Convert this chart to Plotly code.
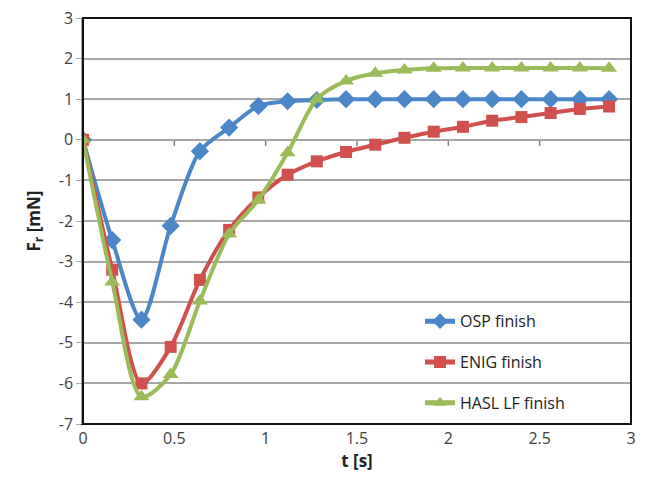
import plotly.graph_objects as go

t = [0, 0.16, 0.32, 0.48, 0.64, 0.80, 0.96, 1.12, 1.28, 1.44, 1.60, 1.76, 1.92, 2.08, 2.24, 2.40, 2.56, 2.72, 2.88]
osp = [0, -2.47, -4.43, -2.12, -0.28, 0.30, 0.83, 0.95, 0.98, 1.0, 1.0, 1.0, 1.0, 1.0, 1.0, 1.0, 1.0, 1.0, 1.0]
enig = [0, -3.2, -6.0, -5.1, -3.45, -2.22, -1.42, -0.86, -0.53, -0.30, -0.12, 0.05, 0.20, 0.32, 0.47, 0.56, 0.66, 0.76, 0.82]
hasl = [0, -3.5, -6.33, -5.78, -3.97, -2.32, -1.48, -0.32, 1.0, 1.45, 1.64, 1.72, 1.76, 1.77, 1.77, 1.77, 1.77, 1.77, 1.76]

x_ticks = [0, 0.5, 1, 1.5, 2, 2.5, 3]
y_ticks = [-7, -6, -5, -4, -3, -2, -1, 0, 1, 2, 3]

font = "Open Sans, Liberation Sans, sans-serif"

fig = go.Figure()
series = [
    ("OSP finish", osp, "#4A86C8", "diamond", 14),
    ("ENIG finish", enig, "#D0504D", "square", 12),
    ("HASL LF finish", hasl, "#9BBB59", "triangle-up", 14),
]
for name, vals, col, sym, sz in series:
    fig.add_trace(go.Scatter(
        x=t, y=vals, name=name, mode="lines+markers", legendgroup=name,
        line=dict(color=col, width=4, shape="spline", smoothing=0.8),
        marker=dict(symbol=sym, size=sz, color=col),
    ))

shapes = []
for xv in x_ticks[1:-1]:
    shapes.append(dict(type="line", xref="x", yref="y", x0=xv, x1=xv, y0=0, y1=-0.15,
                       line=dict(color="#808080", width=1.5), layer="below"))
shapes.append(dict(type="rect", xref="paper", yref="paper", x0=0, x1=1, y0=0, y1=1,
                   line=dict(color="#111111", width=2), layer="above"))

fig.update_layout(
    width=637, height=479,
    margin=dict(l=75, r=14, t=10, b=63, autoexpand=False),
    paper_bgcolor="white", plot_bgcolor="white",
    font=dict(family=font, size=16, color="#404040"),
    showlegend=True,
    legend=dict(x=0.615, y=0.295, xanchor="left", yanchor="top",
                bgcolor="rgba(255,255,255,0)", font=dict(size=16, color="#222222"),
                tracegroupgap=17, itemsizing="constant"),
    shapes=shapes,
    xaxis=dict(range=[0, 3], tickvals=x_ticks, ticktext=[str(v) for v in x_ticks],
               showgrid=False, zeroline=False, showline=True, linecolor="#222222",
               ticks="", automargin=False, ticklabeloverflow="allow",
               title=dict(text="<b>t [s]</b>", font=dict(size=17, color="#222222"), standoff=6)),
    yaxis=dict(range=[-7, 3], tickvals=y_ticks, ticktext=[str(v) for v in y_ticks],
               showgrid=True, gridcolor="#A6A6A6", gridwidth=1.5,
               zeroline=True, zerolinecolor="#A6A6A6", zerolinewidth=1.5,
               showline=True, linecolor="#A6A6A6", linewidth=1.5,
               ticks="outside", ticklen=5, tickcolor="#A6A6A6", automargin=False,
               ticklabeloverflow="allow",
               title=dict(text="<b>F<sub>r</sub> [mN]</b>", font=dict(size=17, color="#222222"), standoff=14)),
)

fig.write_html("out.html")
